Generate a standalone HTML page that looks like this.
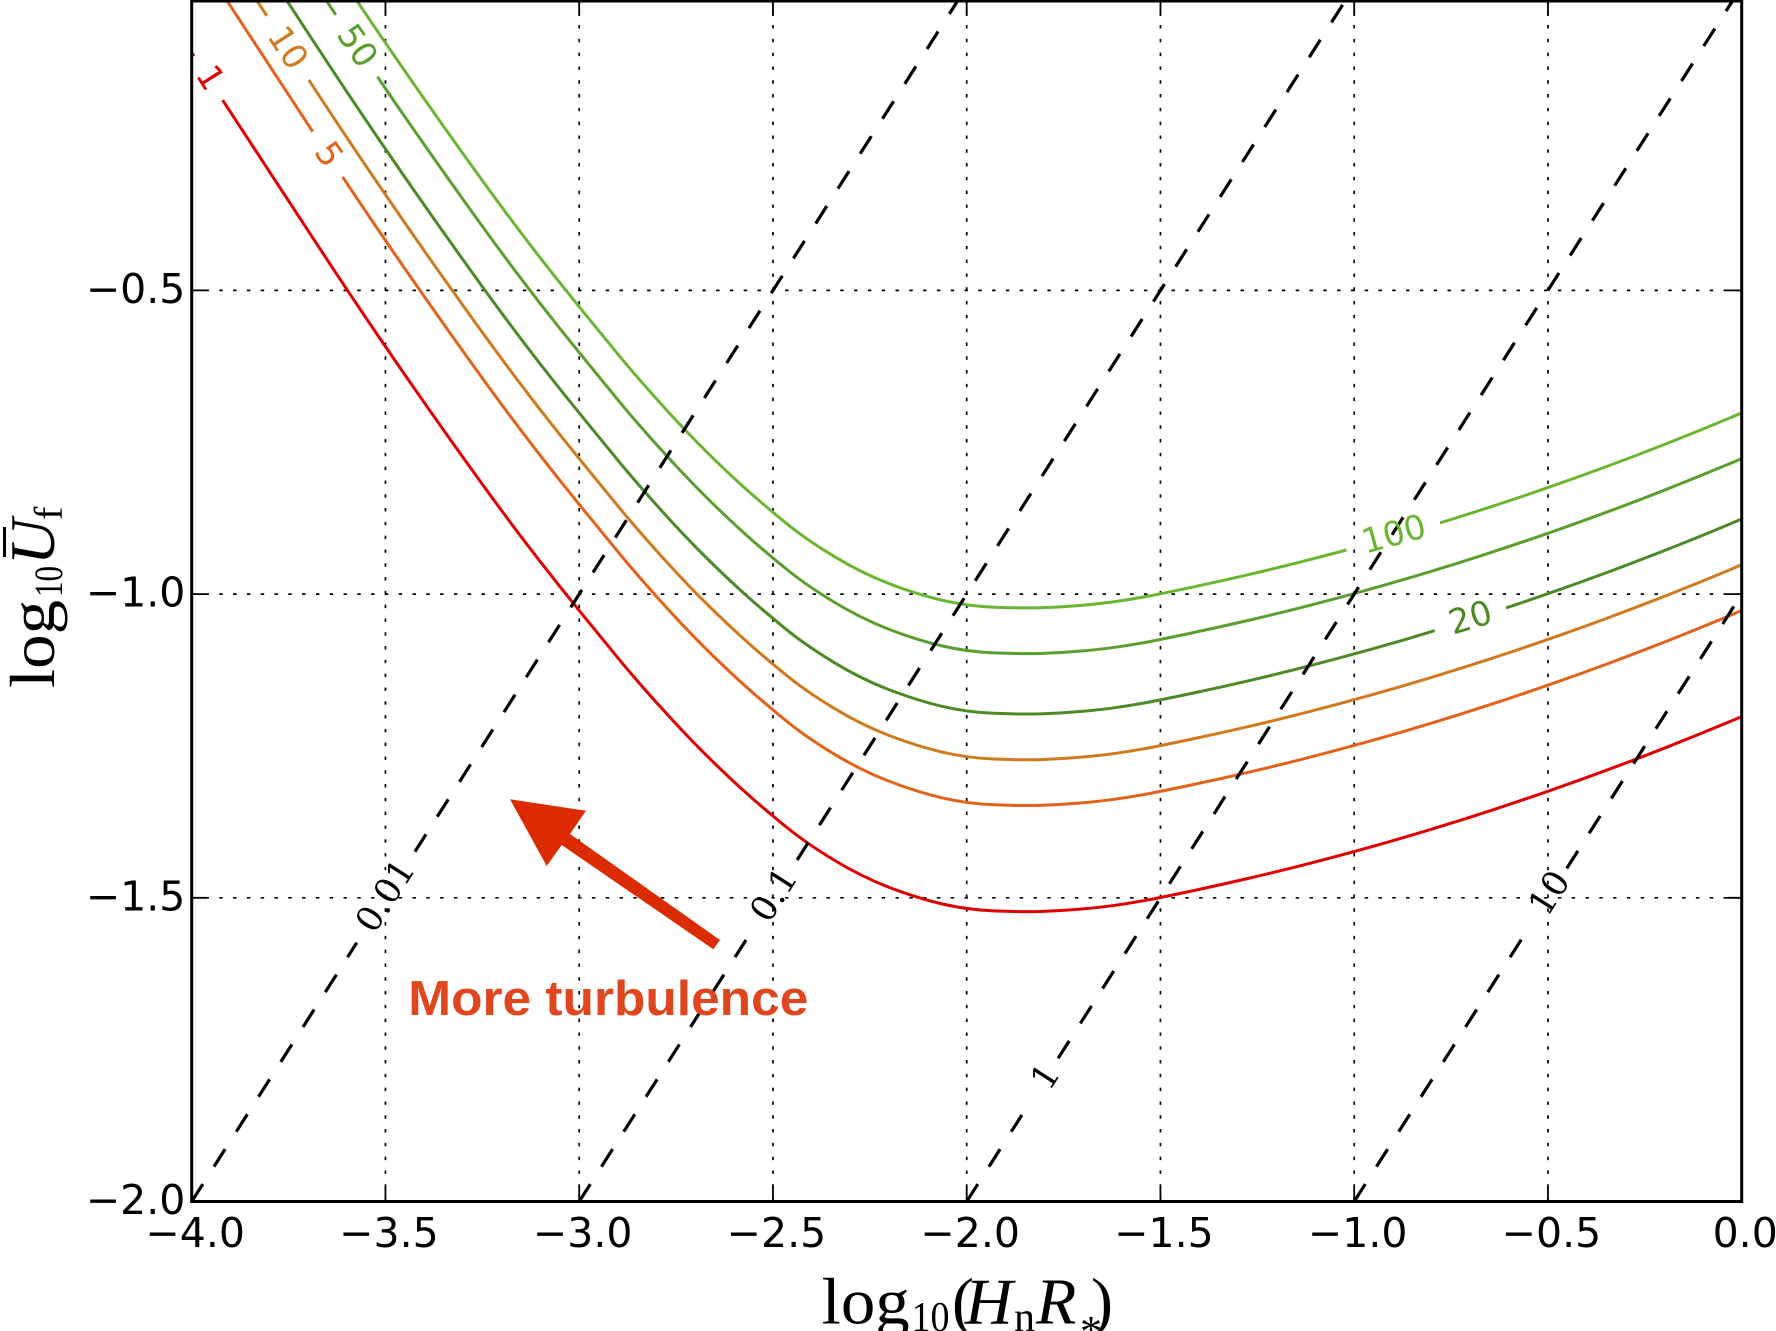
<!DOCTYPE html>
<html>
<head>
<meta charset="utf-8">
<style>
html,body{margin:0;padding:0;background:#fff;overflow:hidden;}
svg{display:block;}
</style>
</head>
<body>
<svg xmlns="http://www.w3.org/2000/svg" width="1776" height="1331" viewBox="0 0 1776 1331">
<defs>
  <clipPath id="pc"><rect x="191.7" y="1" width="1550" height="1200.5"/></clipPath>
  <path id="c" fill="none" d="M140,-27.6 L166,12.85 Q192,53.3 207.25,76.65 Q222.5,100 253.75,147.7 Q285,195.4 315.95,242.7 Q346.9,290 379.95,338.5 Q413,387 446,433.5 Q479,480 499.5,507.75 Q520,535.5 539.65,560.8 Q559.3,586.1 579.65,611.05 Q600,636 617,656.8 Q634,677.6 660.75,707.3 Q687.5,737 711.45,760.35 Q735.4,783.7 754.4,800.2 Q773.4,816.7 790.05,830 Q806.7,843.3 833.35,859.65 Q860,876 887.85,886.85 Q915.7,897.7 941.35,903.75 Q967,909.8 994,910.9 Q1021,912 1040.5,911.45 Q1060,910.9 1080,909.15 Q1100,907.4 1115,905.3 Q1130,903.2 1145.5,900.35 Q1161,897.5 1190.5,891.25 Q1220,885 1250,878 Q1280,871 1310,863.3 Q1340,855.6 1370,847.2 Q1400,838.8 1430,829.7 Q1460,820.6 1490,810.8 Q1520,801 1550,790.55 Q1580,780.1 1610,768.95 Q1640,757.8 1670,745.95 Q1700,734.1 1730,721.55 Q1760,709 1780,700.25 L1800,691.5"/>
  <mask id="cm" maskUnits="userSpaceOnUse" x="0" y="0" width="1776" height="1331">
    <rect x="0" y="0" width="1776" height="1331" fill="#fff"/>
    <rect x="-26.25" y="-7" width="52.5" height="14" fill="#000" transform="translate(208.5,78) rotate(57.9)"/>
    <rect x="-27.2" y="-7" width="54.4" height="14" fill="#000" transform="translate(327.75,154.2) rotate(55.9)"/>
    <rect x="-38.3" y="-7" width="76.6" height="14" fill="#000" transform="translate(287.5,48) rotate(56.7)"/>
    <rect x="-37.35" y="-7" width="74.7" height="14" fill="#000" transform="translate(356.5,45.9) rotate(55.7)"/>
    <rect x="-48.8" y="-7" width="97.6" height="14" fill="#000" transform="translate(1393.2,536.4) rotate(-16.2)"/>
    <rect x="-37.4" y="-7" width="74.8" height="14" fill="#000" transform="translate(1470.1,618.5) rotate(-16.8)"/>
  </mask>
</defs>

<rect x="0" y="0" width="1776" height="1331" fill="#fff"/>

<!-- grid -->
<g stroke="#000" stroke-width="1.7" stroke-dasharray="3.45 10.35" fill="none">
  <path d="M385.45,1201.5 V1"/>
  <path d="M579.2,1201.5 V1"/>
  <path d="M772.95,1201.5 V1"/>
  <path d="M966.7,1201.5 V1"/>
  <path d="M1160.45,1201.5 V1"/>
  <path d="M1354.2,1201.5 V1"/>
  <path d="M1547.95,1201.5 V1"/>
  <path d="M191.7,290.4 H1741.7"/>
  <path d="M191.7,594.1 H1741.7"/>
  <path d="M191.7,897.8 H1741.7"/>
</g>

<!-- contour curves -->
<g clip-path="url(#pc)">
  <g mask="url(#cm)" fill="none" stroke-width="3" stroke-linejoin="round">
    <use href="#c" stroke="#e00000"/>
    <use href="#c" stroke="#e4611a" transform="translate(0,-106.1)"/>
    <use href="#c" stroke="#d0791f" transform="translate(0,-151.85)"/>
    <use href="#c" stroke="#4b8a24" transform="translate(0,-197.6)"/>
    <use href="#c" stroke="#5a9f2d" transform="translate(0,-258)"/>
    <use href="#c" stroke="#6ab632" transform="translate(0,-303.7)"/>
  </g>
</g>

<!-- dashed lines -->
<g clip-path="url(#pc)" fill="none" stroke="#000" stroke-width="3.2" stroke-dasharray="20.7 20.7">
  <path d="M191.7,1201.5 L356.8,942.7"/>
  <path d="M414.9,851.7 L971,-20"/>
  <path d="M579.2,1201.5 L746,940"/>
  <path d="M797.1,860 L1358.5,-20"/>
  <path d="M966.7,1201.5 L1021.9,1115"/>
  <path d="M1058.1,1058.3 L1758.6,-40"/>
  <path d="M1354.2,1201.5 L1522.1,938.3"/>
  <path d="M1566.8,868.3 L1760,565.4"/>
</g>

<!-- contour labels -->
<g font-family="'DejaVu Sans', 'Liberation Sans', sans-serif" font-size="34" text-anchor="middle" dominant-baseline="central">
  <text fill="#e00000" transform="translate(210,78) rotate(57.9)">1</text>
  <text fill="#e4611a" transform="translate(328.5,154.5) rotate(55.9)">5</text>
  <text fill="#d0791f" transform="translate(287.5,48) rotate(56.7)">10</text>
  <text fill="#5a9f2d" transform="translate(357,46) rotate(55.7)">50</text>
  <text fill="#6ab632" transform="translate(1394,534.5) rotate(-15.5)">100</text>
  <text fill="#4b8a24" transform="translate(1470.5,618) rotate(-16.5)">20</text>
</g>

<!-- dashed line labels -->
<g font-family="'DejaVu Serif', 'Liberation Serif', serif" font-size="35" text-anchor="middle" dominant-baseline="central" fill="#000">
  <text transform="translate(386,896) rotate(-57.46)">0.01</text>
  <text transform="translate(774.5,895) rotate(-57.46)">0.1</text>
  <text transform="translate(1046,1077) rotate(-57.46)">1</text>
  <text transform="translate(1550,893.5) rotate(-57.46)">10</text>
</g>

<!-- arrow and annotation -->
<polygon points="510,799.3 586,810.7 570,834 720,940 713.3,949.3 561.7,845 546.7,866" fill="#dc2b00"/>
<text x="408.3" y="1015" font-family="'Liberation Sans', sans-serif" font-weight="bold" font-size="49" fill="#e0461e" textLength="400" lengthAdjust="spacingAndGlyphs">More turbulence</text>

<!-- spines -->
<rect x="191.7" y="1" width="1550" height="1200.5" fill="none" stroke="#000" stroke-width="3"/>

<!-- ticks -->
<g stroke="#000" stroke-width="1.8" fill="none">
  <path d="M385.45,1201.5 V1186.5 M579.2,1201.5 V1186.5 M772.95,1201.5 V1186.5 M966.7,1201.5 V1186.5 M1160.45,1201.5 V1186.5 M1354.2,1201.5 V1186.5 M1547.95,1201.5 V1186.5"/>
  <path d="M385.45,1 V16 M579.2,1 V16 M772.95,1 V16 M966.7,1 V16 M1160.45,1 V16 M1354.2,1 V16 M1547.95,1 V16"/>
  <path d="M191.7,290.4 H206.7 M191.7,594.1 H206.7 M191.7,897.8 H206.7"/>
  <path d="M1741.7,290.4 H1726.7 M1741.7,594.1 H1726.7 M1741.7,897.8 H1726.7"/>
</g>

<!-- tick labels -->
<g font-family="'DejaVu Sans', 'Liberation Sans', sans-serif" font-size="41" fill="#000">
  <g text-anchor="middle">
    <text x="195.2" y="1247">−4.0</text>
    <text x="388.95" y="1247">−3.5</text>
    <text x="582.7" y="1247">−3.0</text>
    <text x="776.45" y="1247">−2.5</text>
    <text x="970.2" y="1247">−2.0</text>
    <text x="1163.95" y="1247">−1.5</text>
    <text x="1357.7" y="1247">−1.0</text>
    <text x="1551.45" y="1247">−0.5</text>
    <text x="1745.2" y="1247">0.0</text>
  </g>
  <g text-anchor="end">
    <text x="185.4" y="302.9">−0.5</text>
    <text x="185.4" y="606.6">−1.0</text>
    <text x="185.4" y="910.3">−1.5</text>
    <text x="185.4" y="1214">−2.0</text>
  </g>
</g>

<!-- x axis label -->
<g font-family="'Liberation Serif', serif" font-size="66" fill="#000">
  <text x="821.7" y="1323.3" textLength="88" lengthAdjust="spacingAndGlyphs">log</text>
  <text x="911.5" y="1331" font-size="42" textLength="38" lengthAdjust="spacingAndGlyphs">10</text>
  <text x="952" y="1323.3">(</text>
  <text x="965" y="1323.3" font-style="italic">H</text>
  <text x="1014" y="1331" font-size="42">n</text>
  <text x="1036" y="1323.3" font-style="italic">R</text>
  <text x="1080" y="1346" font-size="44">*</text>
  <text x="1091" y="1323.3">)</text>
</g>

<!-- y axis label -->
<g font-family="'Liberation Serif', serif" font-size="64" fill="#000" transform="translate(54,688) rotate(-90)">
  <text x="0" y="0" textLength="88" lengthAdjust="spacingAndGlyphs">log</text>
  <text x="91" y="8" font-size="40" textLength="31" lengthAdjust="spacingAndGlyphs">10</text>
  <text x="123" y="0" font-style="italic">U</text>
  <rect x="131" y="-51" width="30" height="3"/>
  <text x="168" y="8" font-size="40">f</text>
</g>
</svg>
</body>
</html>
